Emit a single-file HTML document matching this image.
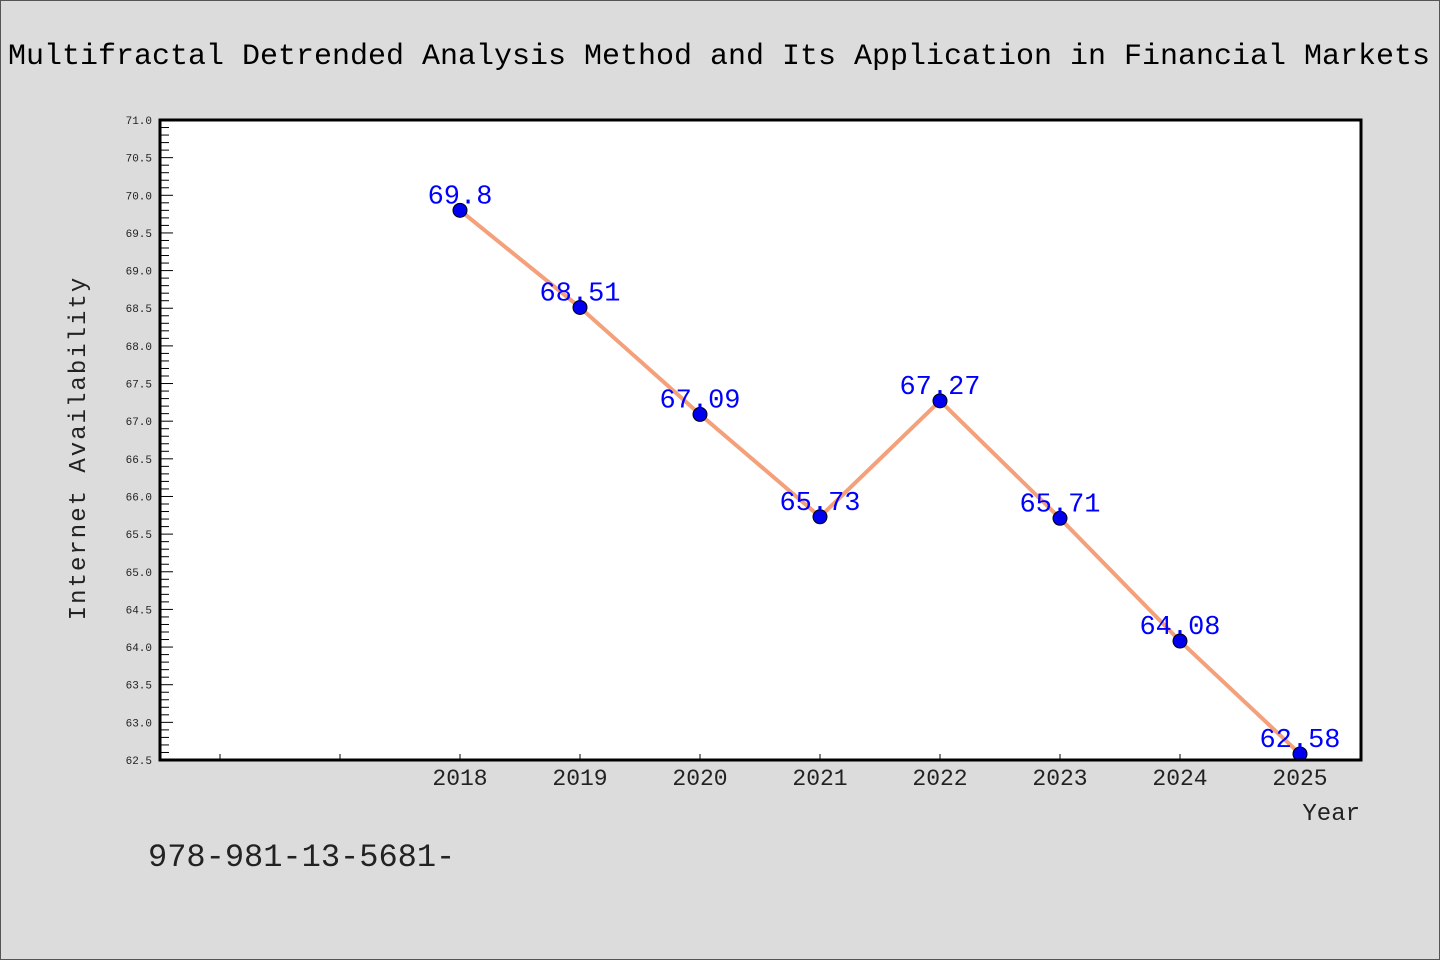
<!DOCTYPE html>
<html><head><meta charset="utf-8"><style>
html,body{margin:0;padding:0;background:#dcdcdc;}
svg{display:block;}
text{font-family:"WenQuanYi Zen Hei","Liberation Mono",monospace;}
</style></head><body>
<svg id="chart" width="1440" height="960" xmlns="http://www.w3.org/2000/svg">
<rect x="0.5" y="0.5" width="1439" height="959" fill="#dcdcdc" stroke="#555" stroke-width="1"/>
<text x="8" y="64" font-size="30" textLength="1422" lengthAdjust="spacing" fill="#000">Multifractal Detrended Analysis Method and Its Application in Financial Markets</text>
<rect x="160" y="120" width="1201" height="640" fill="#fff"/>
<g id="yticks"></g>
<g id="xticks"></g>
<g id="series"></g>
<rect x="160" y="120" width="1201" height="640" fill="none" stroke="#000" stroke-width="3"/>
<text transform="translate(85,448) rotate(-90)" text-anchor="middle" font-size="24" fill="#222" letter-spacing="2">Internet Availability</text>
<text x="1360" y="820" text-anchor="end" font-size="24" fill="#222">Year</text>
<text x="148" y="866" font-size="32" fill="#222">978-981-13-5681-</text>
</svg>
<script>
const years = [2018, 2019, 2020, 2021, 2022, 2023, 2024, 2025];
const values = [69.8, 68.51, 67.09, 65.73, 67.27, 65.71, 64.08, 62.58];
const valueLabels = ["69.8", "68.51", "67.09", "65.73", "67.27", "65.71", "64.08", "62.58"];
const yTickLabels = ["62.5","63.0","63.5","64.0","64.5","65.0","65.5","66.0","66.5","67.0","67.5","68.0","68.5","69.0","69.5","70.0","70.5","71.0"];
const xMinorTicks = [2016, 2017];

const NS = "http://www.w3.org/2000/svg";
const X0 = 160, X1 = 1360, Y0 = 760, Y1 = 120;
const xMin = 2015.5, xMax = 2025.5, yMin = 62.5, yMax = 71.0;
function xs(v){ return X0 + (v - xMin) / (xMax - xMin) * (X1 - X0); }
function ys(v){ return Y0 - (v - yMin) / (yMax - yMin) * (Y0 - Y1); }
function mk(tag, attrs, parent){ const e = document.createElementNS(NS, tag); for (const k in attrs) e.setAttribute(k, attrs[k]); parent.appendChild(e); return e; }

const yg = document.getElementById('yticks');
for (let i = 0; i <= 85; i++) {
  const v = yMin + i * 0.1;
  const y = ys(v);
  const major = i % 5 === 0;
  const t = mk('line', {x1: X0, x2: X0 + (major ? 13 : 9), y1: y, y2: y, stroke: '#000', 'stroke-width': 1}, yg);
  
  
}
yTickLabels.forEach(function(l){
  const tx = mk('text', {x: 152, y: ys(parseFloat(l)) + 4, 'text-anchor': 'end', 'font-size': 11, fill: '#222'}, yg);
  
  
  tx.textContent = l;
});

const xg = document.getElementById('xticks');
xMinorTicks.concat(years).forEach(function(yr){
  const t = mk('line', {x1: xs(yr), x2: xs(yr), y1: Y0, y2: Y0 - 6, stroke: '#000', 'stroke-width': 1}, xg);
  
  
});
years.forEach(function(yr){
  const tx = mk('text', {x: xs(yr), y: 785, 'text-anchor': 'middle', 'font-size': 23, fill: '#222'}, xg);
  
  
  tx.textContent = String(yr);
});

const sg = document.getElementById('series');
const pts = years.map(function(yr, i){ return xs(yr) + ',' + ys(values[i]); }).join(' ');
const line = mk('polyline', {points: pts, fill: 'none', stroke: '#f4a07a', 'stroke-width': 4, 'stroke-linejoin': 'round'}, sg);


years.forEach(function(yr, i){
  const c = mk('circle', {cx: xs(yr), cy: ys(values[i]), r: 7, fill: '#0000ee', stroke: '#000', 'stroke-width': 1}, sg);
  
  
});
years.forEach(function(yr, i){
  const tx = mk('text', {x: xs(yr), y: ys(values[i]) - 7, 'text-anchor': 'middle', 'font-size': 27, fill: '#0000ff'}, sg);
  
  
  tx.textContent = valueLabels[i];
});
</script>
</body></html>
